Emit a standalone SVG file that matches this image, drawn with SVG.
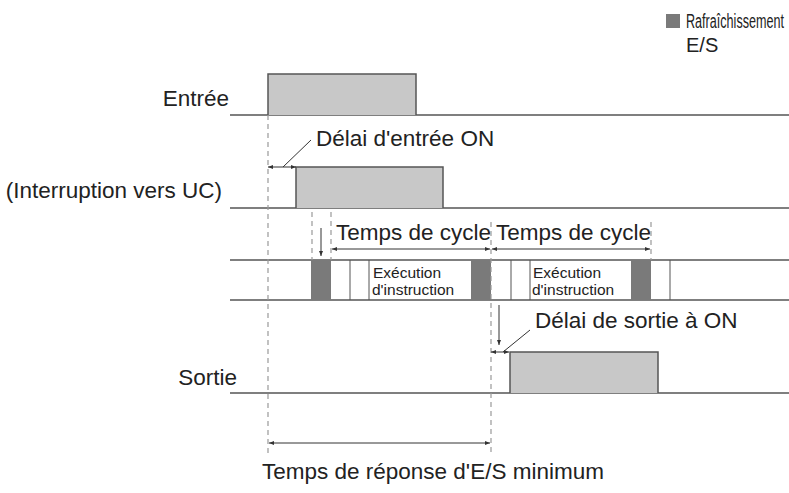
<svg xmlns="http://www.w3.org/2000/svg" width="789" height="493" viewBox="0 0 789 493">
<defs>
<marker id="ah" viewBox="0 0 10 10" refX="10" refY="5" markerWidth="5" markerHeight="5" orient="auto-start-reverse"><path d="M0,1 L10,5 L0,9 z" fill="#333"/></marker>
<style>
text{font-family:"Liberation Sans",Arial,sans-serif;fill:#222}
.t{font-size:22.5px}.s{font-size:15.5px}.l{font-size:20px}
.sig{fill:#c8c8c8;stroke:#555;stroke-width:1.5}
.ln{stroke:#555;stroke-width:1.5;fill:none}
.d{stroke:#999;stroke-width:1.2;stroke-dasharray:5,4;fill:none}
.a{stroke:#333;stroke-width:1;fill:none}
.dk{fill:#7a7a7a}
</style>
</defs>
<rect width="789" height="493" fill="#fff"/>
<g id="legend"><rect x="666" y="14" width="14" height="14" fill="#7a7a7a"/><text x="686" y="28" class="l" textLength="98" lengthAdjust="spacingAndGlyphs">Rafraîchissement</text><text x="686" y="52" class="l">E/S</text></g>
<g id="entree"><text x="229" y="106" class="t" text-anchor="end">Entrée</text><path class="ln" d="M230,115 H789"/><path class="sig" d="M268,115 V74 H416 V115"/></g>
<g id="interruption"><text x="222" y="198" class="t" text-anchor="end">(Interruption vers UC)</text><path class="ln" d="M230,208 H789"/><path class="sig" d="M296,208 V167 H443 V208"/></g>
<g id="cycle">
<path class="ln" d="M230,260 H789 M230,300 H789"/>
<rect class="dk" x="311" y="260" width="20" height="40"/><rect class="dk" x="471" y="260" width="20" height="40"/><rect class="dk" x="631" y="260" width="20" height="40"/>
<path stroke="#555" stroke-width="1" d="M350,260V300M369,260V300M511,260V300M530,260V300M670,260V300"/>
<text x="373" y="278" class="s">Exécution</text><text x="372" y="295" class="s">d'instruction</text>
<text x="533" y="278" class="s">Exécution</text><text x="532" y="295" class="s">d'instruction</text>
<text x="336" y="240" class="t">Temps de cycle</text><text x="496" y="240" class="t">Temps de cycle</text>
</g>
<g id="sortie"><text x="237" y="385" class="t" text-anchor="end">Sortie</text><path class="ln" d="M230,393 H789"/><path class="sig" d="M510,393 V352 H658 V393"/></g>
<g id="connectors">
<path class="d" d="M268,115V455 M491,222V455 M312,212V260 M331,212V260 M651,222V260"/>
<path class="a" marker-start="url(#ah)" marker-end="url(#ah)" d="M268,167H296"/>
<path class="a" d="M283,167L311,140"/>
<path class="a" marker-end="url(#ah)" d="M321,228V256"/>
<path class="a" marker-start="url(#ah)" marker-end="url(#ah)" d="M332,249H490"/>
<path class="a" marker-start="url(#ah)" marker-end="url(#ah)" d="M492,249H650"/>
<path class="a" marker-end="url(#ah)" d="M499,305V345"/>
<path class="a" marker-start="url(#ah)" marker-end="url(#ah)" d="M491,352H509"/>
<path class="a" d="M503,352L530,330"/>
<path class="a" marker-start="url(#ah)" marker-end="url(#ah)" d="M269,443H490"/>
</g>
<text x="316" y="146" class="t">Délai d'entrée ON</text>
<text x="535" y="328" class="t">Délai de sortie à ON</text>
<text x="262" y="479" class="t">Temps de réponse d'E/S minimum</text>
</svg>
